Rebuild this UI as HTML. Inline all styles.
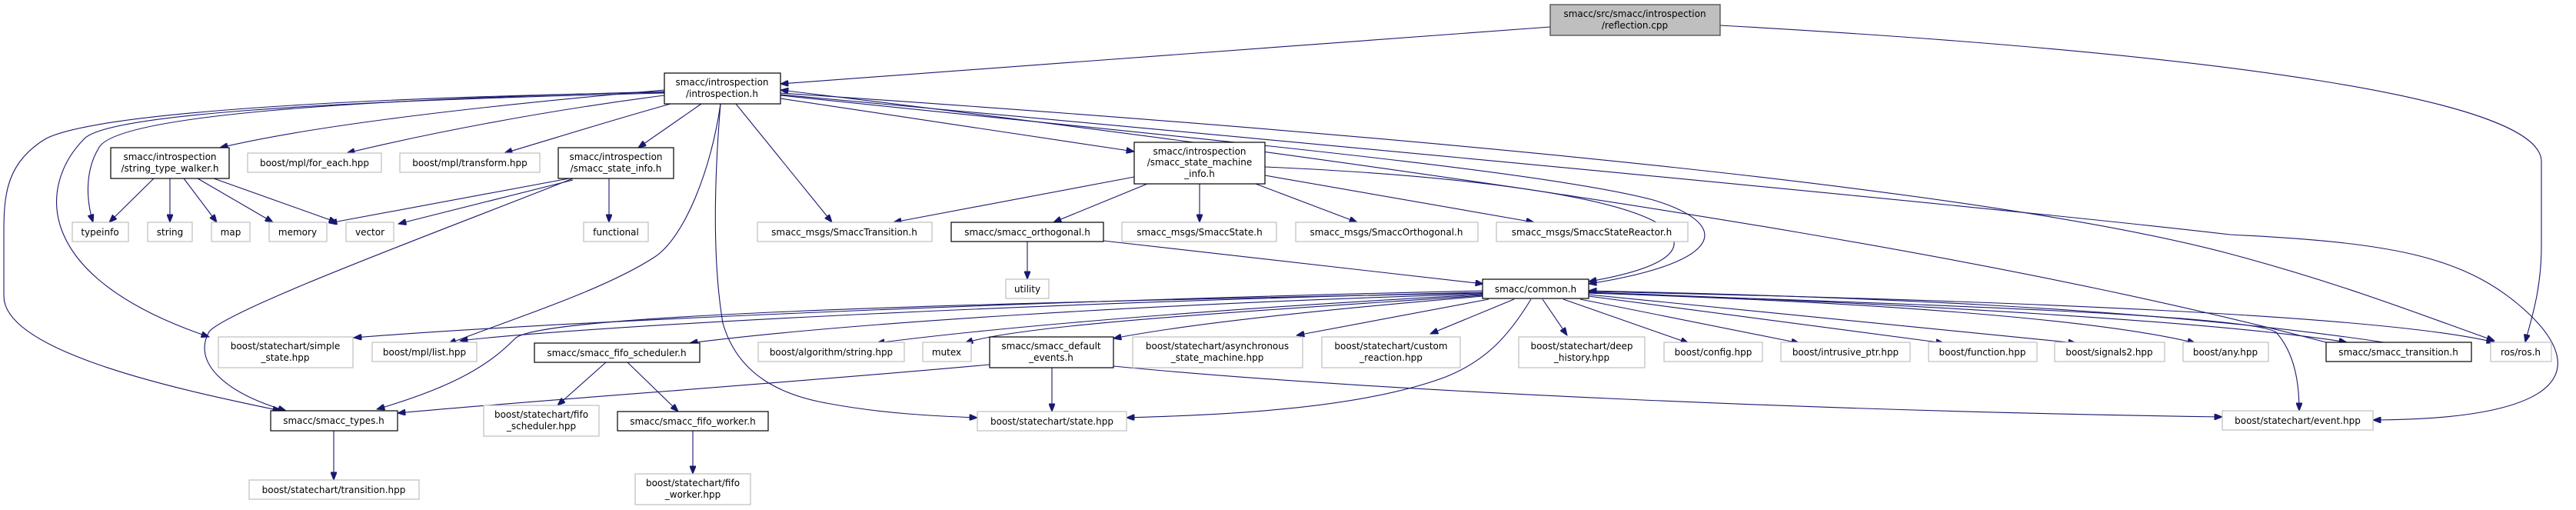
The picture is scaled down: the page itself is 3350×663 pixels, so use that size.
<!DOCTYPE html>
<html><head><meta charset="utf-8"><style>
html,body{margin:0;padding:0;background:#fff;}
svg{display:block;}
text{font-family:"DejaVu Sans","Liberation Sans",sans-serif;font-size:12px;fill:#000;text-anchor:middle;}
.g{fill:#fff;stroke:#bfbfbf;stroke-width:1.2;}
.b{fill:#fff;stroke:#000;stroke-width:1.2;}
.f{fill:#bfbfbf;stroke:#404040;stroke-width:1.2;}
path.e{fill:none;stroke:#191970;stroke-width:1.1;marker-end:url(#a);}
path.n{fill:none;stroke:#191970;stroke-width:1.1;}
</style></head><body>
<svg width="3350" height="663" viewBox="0 0 3350 663" xmlns="http://www.w3.org/2000/svg">
<defs><marker id="a" viewBox="0 0 10 8" refX="10" refY="4" markerWidth="11" markerHeight="8" markerUnits="userSpaceOnUse" orient="auto"><path d="M0,0L10,4L0,8z" fill="#191970" stroke="#191970"/></marker></defs>

<!-- edges -->
<path class="e" d="M2016,35 L1015,109"/>
<path class="e" d="M2237,33 C2900,70 3305,130 3305,210 L3305,320 C3305,380 3290,420 3284,445"/>
<path class="e" d="M864,117 C600,140 400,165 286,192"/>
<path class="e" d="M864,124 C700,145 550,175 451,199"/>
<path class="e" d="M872,135 C800,155 720,180 656,199"/>
<path class="e" d="M864,119 C450,130 160,150 130,190 C110,220 112,260 121,289"/>
<path class="e" d="M864,121 C400,132 140,150 110,180 C50,240 40,360 272,438"/>
<path class="e" d="M864,120 C400,128 120,150 60,180 C10,210 5,250 5,300 L5,385 C5,460 250,510 365,534"/>
<path class="e" d="M912,135 L830,192"/>
<path class="e" d="M957,135 L1082,289"/>
<path class="e" d="M937,135 C925,220 890,310 850,335 C780,380 650,420 583,447"/>
<path class="e" d="M937,135 C930,220 925,330 940,420 C960,490 1020,515 1080,525 C1150,538 1220,541 1271,543"/>
<path class="e" d="M745,232 C600,290 300,400 272,431 C250,470 290,510 372,534"/>
<path class="e" d="M740,232 L428,290"/>
<path class="e" d="M745,234 L518,291"/>
<path class="e" d="M792,232 L792,289"/>
<path class="e" d="M200,232 L142,289"/>
<path class="e" d="M221,232 L221,289"/>
<path class="e" d="M239,232 L282,289"/>
<path class="e" d="M257,232 L355,289"/>
<path class="e" d="M278,232 L438,289"/>
<path class="e" d="M1015,128 L1475,197"/>
<path class="e" d="M1015,124 C1500,175 2000,220 2150,260 C2250,290 2250,340 2066,369"/>
<path class="e" d="M1645,217 C1900,228 2120,255 2170,300 C2200,335 2130,355 2066,366"/>
<path class="e" d="M1475,230 L1162,289"/>
<path class="e" d="M1492,239 L1370,289"/>
<path class="e" d="M1560,239 L1560,289"/>
<path class="e" d="M1633,239 L1765,289"/>
<path class="e" d="M1645,228 L1995,289"/>
<path class="e" d="M1336,314 L1336,363"/>
<path class="e" d="M1435,313 L1929,369"/>
<!-- from common -->
<path class="e" d="M1929,378 C1300,392 700,420 460,439"/>
<path class="e" d="M1929,380 C1300,395 750,425 598,443"/>
<path class="e" d="M1929,381 C1200,395 700,410 670,440 C640,470 600,500 490,532"/>
<path class="e" d="M1929,382 C1500,395 1100,420 897,446"/>
<path class="e" d="M1929,383 C1600,400 1300,425 1140,446"/>
<path class="e" d="M1929,384 C1700,400 1330,420 1255,446"/>
<path class="e" d="M1929,385 C1750,400 1550,420 1448,440"/>
<path class="e" d="M1936,389 L1686,436"/>
<path class="e" d="M1969,389 L1860,434"/>
<path class="e" d="M1991,389 C1960,440 1930,470 1880,490 C1760,535 1560,540 1465,543"/>
<path class="e" d="M2006,389 L2038,436"/>
<path class="e" d="M2033,389 L2196,446"/>
<path class="e" d="M2055,389 L2340,446"/>
<path class="e" d="M2066,385 L2528,446"/>
<path class="e" d="M2066,383 L2700,446"/>
<path class="e" d="M2066,381 C2500,395 2750,420 2855,446"/>
<path class="e" d="M2066,380 C2500,395 2900,420 3052,445"/>
<path class="e" d="M2066,379 C2600,390 3100,410 3244,445"/>
<path class="e" d="M2066,381 C2500,395 2930,410 2960,432 C2985,460 2990,500 2990,534"/>
<path class="e" d="M3100,445 C2800,400 2400,385 2066,378"/>
<!-- I right long edges -->
<path class="e" d="M1015,123 C1800,195 2600,270 2900,305 C3100,315 3200,330 3280,400 C3360,470 3360,545 3086,546"/>
<path class="e" d="M1015,121 C1900,180 2600,250 2900,330 C3050,370 3150,410 3244,443"/>
<path class="e" d="M3025,445 C2700,360 2200,260 1015,117"/>
<!-- default events -->
<path class="e" d="M1368,478 L1368,535"/>
<path class="e" d="M1287,474 C1000,500 700,520 517,537"/>
<path class="e" d="M1448,476 C1800,510 2400,535 2890,542"/>
<!-- fifo -->
<path class="e" d="M788,471 L725,527"/>
<path class="e" d="M816,471 L882,535"/>
<path class="e" d="M901,560 L901,616"/>
<path class="e" d="M434,560 L434,624"/>

<!-- nodes -->
<rect class="f" x="2016" y="6" width="221" height="40"/><text x="2126" y="22">smacc/src/smacc/introspection</text><text x="2126" y="37">/reflection.cpp</text>
<rect class="b" x="864" y="95" width="151" height="40"/><text x="939" y="111">smacc/introspection</text><text x="939" y="126">/introspection.h</text>
<rect class="b" x="144" y="192" width="154" height="40"/><text x="221" y="208">smacc/introspection</text><text x="221" y="223">/string_type_walker.h</text>
<rect class="g" x="322" y="199" width="174" height="25"/><text x="409" y="216">boost/mpl/for_each.hpp</text>
<rect class="g" x="520" y="199" width="182" height="25"/><text x="611" y="216">boost/mpl/transform.hpp</text>
<rect class="b" x="726" y="192" width="150" height="40"/><text x="801" y="208">smacc/introspection</text><text x="801" y="223">/smacc_state_info.h</text>
<rect class="b" x="1475" y="185" width="170" height="54"/><text x="1560" y="201">smacc/introspection</text><text x="1560" y="215">/smacc_state_machine</text><text x="1560" y="230">_info.h</text>

<rect class="g" x="94" y="289" width="73" height="25"/><text x="130" y="306">typeinfo</text>
<rect class="g" x="192" y="289" width="58" height="25"/><text x="221" y="306">string</text>
<rect class="g" x="275" y="289" width="50" height="25"/><text x="300" y="306">map</text>
<rect class="g" x="350" y="289" width="75" height="25"/><text x="387" y="306">memory</text>
<rect class="g" x="450" y="289" width="62" height="25"/><text x="481" y="306">vector</text>
<rect class="g" x="759" y="289" width="84" height="25"/><text x="801" y="306">functional</text>
<rect class="g" x="985" y="289" width="227" height="25"/><text x="1098" y="306">smacc_msgs/SmaccTransition.h</text>
<rect class="b" x="1237" y="289" width="198" height="25"/><text x="1336" y="306">smacc/smacc_orthogonal.h</text>
<rect class="g" x="1459" y="289" width="201" height="25"/><text x="1560" y="306">smacc_msgs/SmaccState.h</text>
<rect class="g" x="1685" y="289" width="237" height="25"/><text x="1803" y="306">smacc_msgs/SmaccOrthogonal.h</text>
<rect class="g" x="1946" y="289" width="249" height="25"/><text x="2070" y="306">smacc_msgs/SmaccStateReactor.h</text>

<rect class="g" x="1308" y="363" width="56" height="25"/><text x="1336" y="380">utility</text>
<rect class="b" x="1928" y="363" width="138" height="25"/><text x="1997" y="380">smacc/common.h</text>

<rect class="g" x="284" y="438" width="175" height="40"/><text x="371" y="454">boost/statechart/simple</text><text x="371" y="469">_state.hpp</text>
<rect class="g" x="484" y="445" width="136" height="25"/><text x="552" y="462">boost/mpl/list.hpp</text>
<rect class="b" x="695" y="446" width="215" height="25"/><text x="802" y="463">smacc/smacc_fifo_scheduler.h</text>
<rect class="g" x="986" y="445" width="190" height="25"/><text x="1081" y="462">boost/algorithm/string.hpp</text>
<rect class="g" x="1200" y="445" width="63" height="25"/><text x="1231" y="462">mutex</text>
<rect class="b" x="1287" y="438" width="161" height="40"/><text x="1367" y="454">smacc/smacc_default</text><text x="1367" y="469">_events.h</text>
<rect class="g" x="1473" y="438" width="221" height="40"/><text x="1583" y="454">boost/statechart/asynchronous</text><text x="1583" y="469">_state_machine.hpp</text>
<rect class="g" x="1719" y="438" width="180" height="40"/><text x="1809" y="454">boost/statechart/custom</text><text x="1809" y="469">_reaction.hpp</text>
<rect class="g" x="1975" y="438" width="164" height="40"/><text x="2057" y="454">boost/statechart/deep</text><text x="2057" y="469">_history.hpp</text>
<rect class="g" x="2164" y="445" width="128" height="25"/><text x="2228" y="462">boost/config.hpp</text>
<rect class="g" x="2316" y="445" width="168" height="25"/><text x="2400" y="462">boost/intrusive_ptr.hpp</text>
<rect class="g" x="2508" y="445" width="141" height="25"/><text x="2578" y="462">boost/function.hpp</text>
<rect class="g" x="2672" y="445" width="143" height="25"/><text x="2743" y="462">boost/signals2.hpp</text>
<rect class="g" x="2839" y="445" width="111" height="25"/><text x="2894" y="462">boost/any.hpp</text>
<rect class="b" x="3025" y="445" width="189" height="25"/><text x="3119" y="462">smacc/smacc_transition.h</text>
<rect class="g" x="3239" y="445" width="79" height="25"/><text x="3278" y="462">ros/ros.h</text>

<rect class="b" x="352" y="534" width="165" height="26"/><text x="434" y="551">smacc/smacc_types.h</text>
<rect class="g" x="629" y="527" width="150" height="40"/><text x="704" y="543">boost/statechart/fifo</text><text x="704" y="558">_scheduler.hpp</text>
<rect class="b" x="803" y="535" width="196" height="25"/><text x="901" y="552">smacc/smacc_fifo_worker.h</text>
<rect class="g" x="1271" y="535" width="194" height="25"/><text x="1368" y="552">boost/statechart/state.hpp</text>
<rect class="g" x="2890" y="534" width="196" height="25"/><text x="2988" y="551">boost/statechart/event.hpp</text>

<rect class="g" x="324" y="624" width="221" height="25"/><text x="434" y="641">boost/statechart/transition.hpp</text>
<rect class="g" x="826" y="616" width="150" height="40"/><text x="901" y="632">boost/statechart/fifo</text><text x="901" y="647">_worker.hpp</text>
</svg>
</body></html>
